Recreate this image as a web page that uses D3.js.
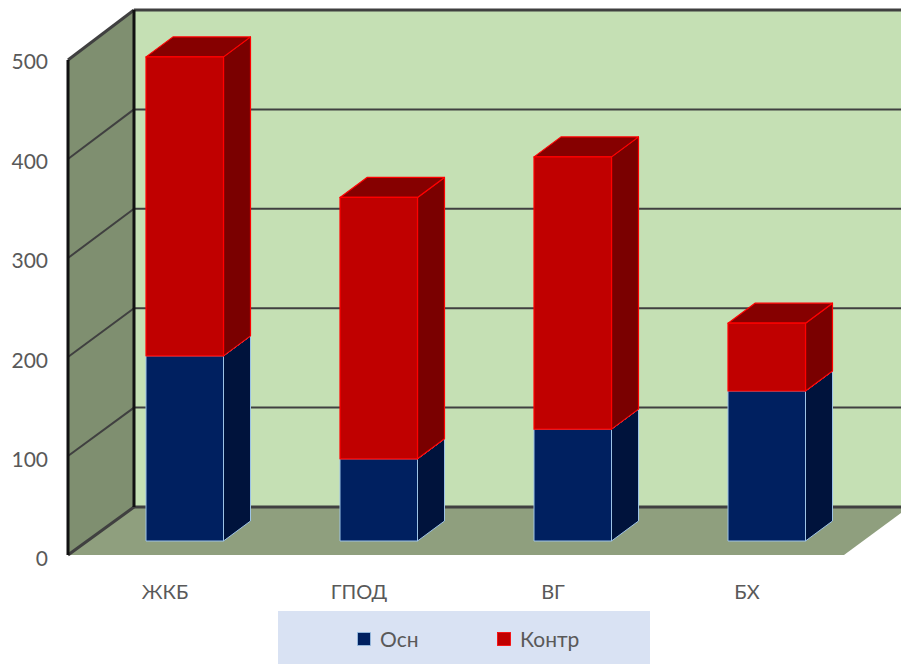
<!DOCTYPE html>
<html><head><meta charset="utf-8">
<script src="https://cdn.jsdelivr.net/npm/d3@7"></script>
<style>html,body{margin:0;padding:0;background:#fff;overflow:hidden}svg{display:block}text{font-family:Lato,"Open Sans",sans-serif;fill:#595959}</style>
</head><body><div id="c"></div>
<script>
const categories = ["ЖКБ","ГПОД","ВГ","БХ"];
const seriesNames = ["Осн","Контр"];
const osn = [187, 83, 113, 151.5];
const kontr = [302, 264, 275, 68.5];
const yTicks = [0,100,200,300,400,500];

const W=901,H=664;
const svg=d3.select("#c").append("svg").attr("width",W).attr("height",H);
const yFront=d3.scaleLinear().domain([0,500]).range([555,60]);
const yBack=d3.scaleLinear().domain([0,500]).range([507,10]);
const x=d3.scaleBand().domain(categories).range([68,844]).paddingInner(0.6).paddingOuter(0.3);
const xFrontL=68,xBackL=134;
const poly=(pts)=>pts.map(p=>p.join(",")).join(" ");

// walls
svg.append("polygon").attr("points",poly([[xBackL,yBack(500)],[W,yBack(500)],[W,yBack(0)],[xBackL,yBack(0)]])).attr("fill","#c5e0b4");
svg.append("polygon").attr("points",poly([[xFrontL,yFront(500)],[xBackL,yBack(500)],[xBackL,yBack(0)],[xFrontL,yFront(0)]])).attr("fill","#7f8f70");
svg.append("polygon").attr("points",poly([[xFrontL,yFront(0)],[xBackL,yBack(0)],[W,yBack(0)],[W,513],[844,yFront(0)]])).attr("fill","#8f9f7e");

// gridlines
const grid=svg.append("g").attr("fill","none").attr("stroke","#404040").attr("stroke-width",2);
yTicks.forEach(t=>{
  grid.append("line").attr("x1",xBackL).attr("x2",W).attr("y1",yBack(t)).attr("y2",yBack(t)).attr("stroke-width",(t===0||t===500)?3:2);
  grid.append("line").attr("x1",xFrontL).attr("x2",xBackL).attr("y1",yFront(t)).attr("y2",yBack(t)).attr("stroke-width",(t===0||t===500)?3:2);
});
svg.append("line").attr("x1",xBackL).attr("x2",xBackL).attr("y1",yBack(500)).attr("y2",yBack(0)).attr("stroke","#111").attr("stroke-width",3);
svg.append("line").attr("x1",xFrontL).attr("x2",xFrontL).attr("y1",yFront(500)).attr("y2",yFront(0)).attr("stroke","#111").attr("stroke-width",3);

// bars
const dx0=20,dy0=-14,dx=27,dy=-20;
const styles=[{front:"#002060",side:"#00133c",top:"#001a4d",stroke:"#9dc3e6",sw:1},
              {front:"#c00000",side:"#7a0000",top:"#860000",stroke:"#ff0000",sw:1.2}];
const bars=svg.append("g");
categories.forEach((c,i)=>{
  const xl=Math.round(x(c)+dx0), xr=xl+Math.round(x.bandwidth())-0.5;
  let base=0;
  [osn[i],kontr[i]].forEach((v,s)=>{
    const st=styles[s];
    const yb=yFront(base)+dy0, yt=yFront(base+v)+dy0;
    const g=bars.append("g").attr("stroke",st.stroke).attr("stroke-width",st.sw).attr("stroke-linejoin","round");
    g.append("polygon").attr("points",poly([[xr,yb],[xr+dx,yb+dy],[xr+dx,yt+dy],[xr,yt]])).attr("fill",st.side);
    g.append("polygon").attr("points",poly([[xl,yt],[xl+dx,yt+dy],[xr+dx,yt+dy],[xr,yt]])).attr("fill",st.top);
    g.append("rect").attr("x",xl).attr("y",yt).attr("width",xr-xl).attr("height",yb-yt).attr("fill",st.front);
    base+=v;
  });
});

// axis labels
svg.append("g").selectAll("text").data(yTicks).join("text")
  .attr("x",48).attr("y",d=>yBack(d)+52).attr("dy","0.35em").attr("text-anchor","end")
  .attr("font-size",21).text(d=>d);
svg.append("g").selectAll("text").data(categories).join("text")
  .attr("x",d=>x(d)+x.bandwidth()/2).attr("y",591.5).attr("dy","0.35em").attr("text-anchor","middle")
  .attr("font-size",20).text(d=>d);

// legend
svg.append("rect").attr("x",278).attr("y",611).attr("width",372).attr("height",53).attr("fill","#d9e2f3");
const lx=d3.scaleOrdinal().domain(seriesNames).range([357,497]);
seriesNames.forEach((n,i)=>{
  svg.append("rect").attr("x",lx(n)+.5).attr("y",632.5).attr("width",13).attr("height",13)
    .attr("fill",styles[i].front).attr("stroke",styles[i].stroke).attr("stroke-width",.8);
  svg.append("text").attr("x",lx(n)+23).attr("y",639.5).attr("dy","0.35em").attr("font-size",21).text(n);
});
</script></body></html>
